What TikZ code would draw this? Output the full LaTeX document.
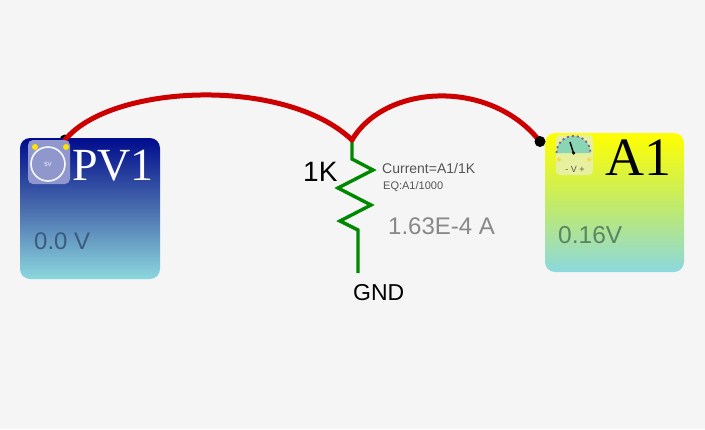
\documentclass[tikz,border=0pt]{standalone}
\usepackage{fontspec}
\setmainfont{Liberation Sans}
\newfontfamily\serifface{Liberation Serif}
\definecolor{bgc}{HTML}{F5F5F5}
\definecolor{wirered}{HTML}{CC0000}
\definecolor{wiregreen}{HTML}{008800}
\definecolor{gtext}{HTML}{888888}
\definecolor{dtext}{HTML}{555555}
\definecolor{pvtop}{HTML}{000C8C}
\definecolor{pvmid}{HTML}{4A6DAE}
\definecolor{cyanb}{HTML}{8CD8DE}
\definecolor{atop}{HTML}{FFFF00}
\definecolor{amid}{HTML}{C4EB66}
\definecolor{pvicon}{HTML}{8F97CC}
\definecolor{aicon}{HTML}{E6F09E}
\definecolor{gauge}{HTML}{8AD6B4}
\definecolor{tick}{HTML}{8A5AA0}
\definecolor{pvval}{HTML}{3A5A80}
\definecolor{aval}{HTML}{5A8560}
\tikzset{
  inst/.style={inner sep=0pt,minimum width=#1,rounded corners=10pt},
  pvbox/.style={inst=140pt,minimum height=141pt,top color=pvtop,bottom color=cyanb,middle color=pvmid},
  abox/.style={inst=139pt,minimum height=139pt,top color=atop,bottom color=cyanb,middle color=amid},
  redwire/.style={draw=wirered,line width=5pt,line cap=round},
  greenwire/.style={draw=wiregreen,line width=3.4pt,line join=miter},
  pin/.style={circle,fill=black,inner sep=0pt,minimum size=11pt},
  title/.style={font=\serifface\fontsize{#1}{#1}\selectfont,inner sep=0pt},
  lbl/.style={inner sep=0pt,anchor=base west},
  ydot/.style={circle,fill=yellow!85!orange,inner sep=0pt},
}
\begin{document}
\begin{tikzpicture}[x=1pt,y=-1pt]
\path[use as bounding box,fill=bgc] (0,0) rectangle (705,429);
\coordinate (pvpin) at (65,140);
\coordinate (apin) at (540,141.5);
\coordinate (junction) at (352,140);
\coordinate (r0) at (352,159);
\coordinate (r1) at (373,170);
\coordinate (r2) at (338,188);
\coordinate (r3) at (371,205);
\coordinate (r4) at (340,221);
\coordinate (r5) at (358,230);
\coordinate (gndend) at (358,273);
\node[pin] (pvdot) at (pvpin) {};
\node[pvbox] (pv) at (90,208.5) {};
\node[abox] (a) at (614.5,202.5) {};
\draw[greenwire] (junction) -- (r0) -- (r1) -- (r2) -- (r3) -- (r4) -- (r5) -- (gndend);
\draw[redwire] (pvdot.center) .. controls (110,84) and (285,76) .. (junction);
\draw[redwire] (junction) .. controls (385,84) and (490,78) .. (apin);
\node[pin] (adot) at (apin) {};
% PV1 icon
\node[fill=pvicon,rounded corners=5pt,minimum width=42pt,minimum height=44pt,inner sep=0pt] (pvic) at (49,162) {};
\node[circle,draw=white!92!pvicon,line width=1.6pt,minimum size=34pt,inner sep=0pt,text=white,font=\fontsize{6}{6}\selectfont] (pvring) at (48,164) {5V};
\node[ydot,minimum size=6pt] (pvy1) at (35,147) {};
\node[ydot,minimum size=6pt] (pvy2) at (66,147) {};
% A1 icon
\node[fill=aicon,rounded corners=4pt,minimum width=37pt,minimum height=40pt,inner sep=0pt] (aic) at (574.5,155) {};
\fill[gauge] (556.5,153) arc[start angle=180,end angle=360,radius=17] -- cycle;
\draw[tick,dash pattern=on 2pt off 3pt,line width=1.8pt] (556.5,153) arc[start angle=180,end angle=360,radius=17];
\draw[black,line width=1.4pt] (573.5,153) -- (570,142);
\node[circle,fill=black,minimum size=3.5pt,inner sep=0pt] (ahub) at (573.5,153) {};
\node[ydot,fill=yellow!70!orange,opacity=.6,minimum size=4pt] (ay1) at (559,159.5) {};
\node[ydot,fill=yellow!70!orange,opacity=.6,minimum size=4pt] (ay2) at (589,159.5) {};
\node[font=\fontsize{9}{9}\selectfont,text=dtext,inner sep=0pt] (avt) at (575,169.5) {- V +};
\node[title=46,text=white,anchor=base west] (pvt) at (72,180) {PV1};
\node[title=54,text=black,anchor=base west] (at) at (605,175) {A1};
\node[lbl,font=\fontsize{24}{24}\selectfont,text=pvval] (pvv) at (34,249) {0.0 V};
\node[lbl,font=\fontsize{24.5}{24.5}\selectfont,text=aval] (av) at (558,243) {0.16V};
\node[lbl,font=\fontsize{28}{28}\selectfont,text=black] (rv) at (303,181) {1K};
\node[lbl,font=\fontsize{14}{14}\selectfont,text=dtext] (cur) at (382,173) {Current=A1/1K};
\node[lbl,font=\fontsize{11}{11}\selectfont,text=dtext] (eq) at (383,189) {EQ:A1/1000};
\node[lbl,font=\fontsize{24}{24}\selectfont,text=gtext] (amp) at (388,234) {1.63E-4 A};
\node[lbl,font=\fontsize{23}{23}\selectfont,text=black] (gnd) at (353,300) {GND};
\end{tikzpicture}
\end{document}
